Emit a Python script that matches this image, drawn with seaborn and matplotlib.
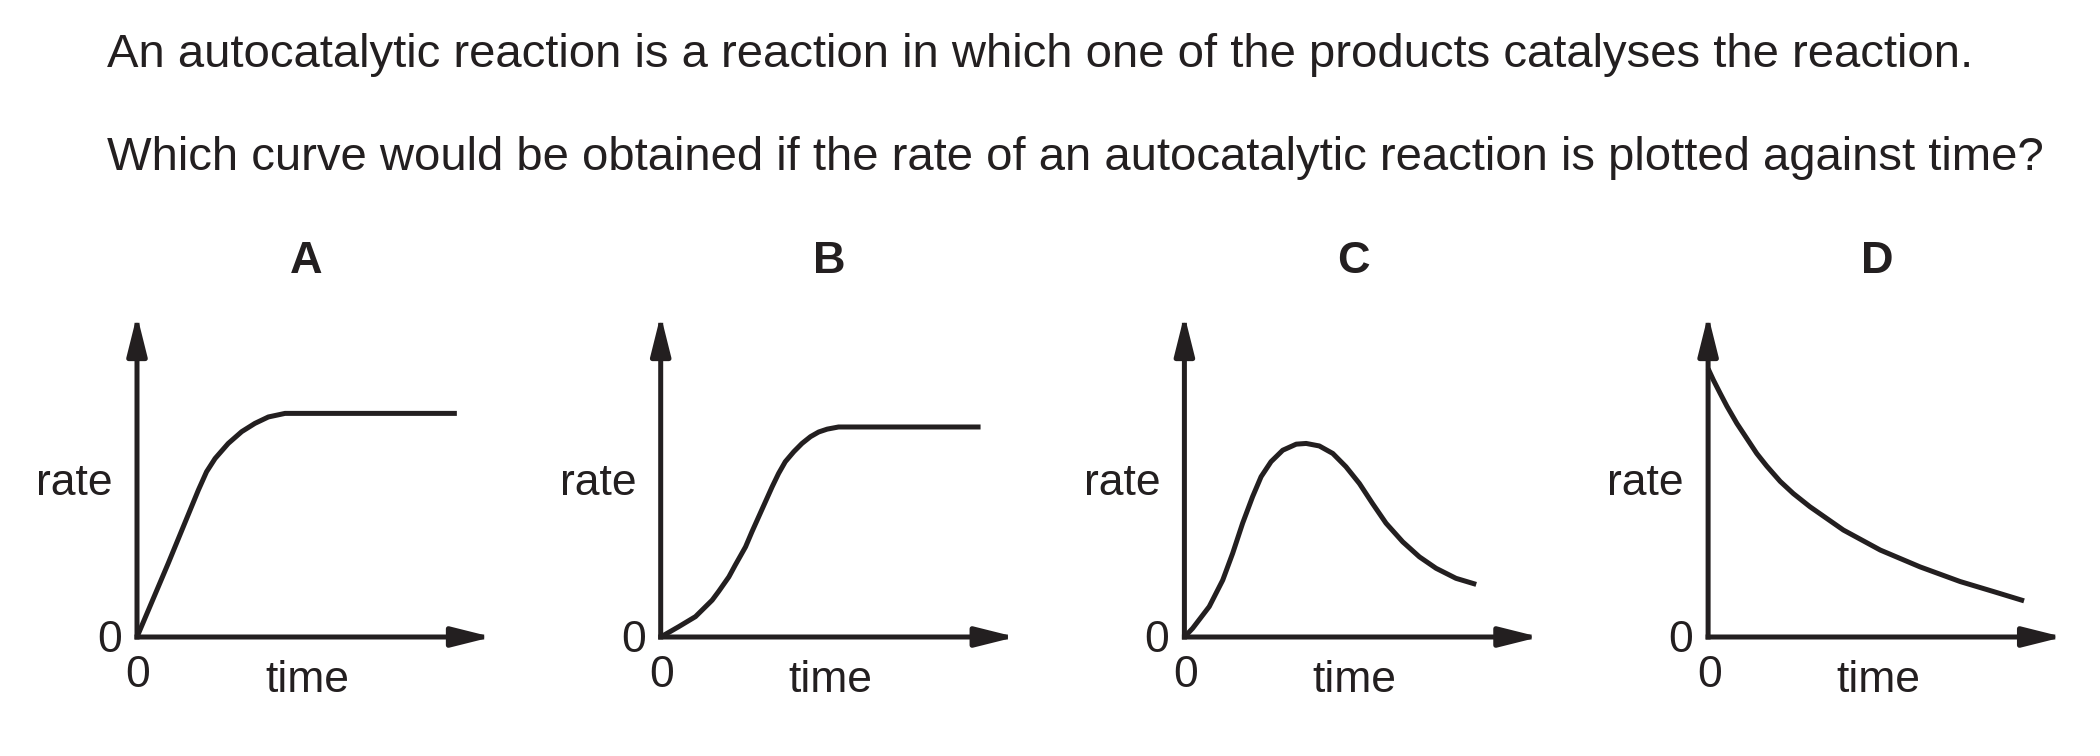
import seaborn as sns
import matplotlib.pyplot as plt

# question text
line1 = "An autocatalytic reaction is a reaction in which one of the products catalyses the reaction."
line2 = "Which curve would be obtained if the rate of an autocatalytic reaction is plotted against time?"

panels = ["A", "B", "C", "D"]

# curves (time, rate), axes run 0-10 and 0-9
a_time = [0, 0.88, 1.73, 1.96, 2.20, 2.57, 2.95, 3.32, 3.70, 4.17, 9.01]
a_rate = [0, 2.06, 4.11, 4.62, 4.99, 5.41, 5.74, 5.97, 6.15, 6.25, 6.25]

b_time = [0, 0.23, 0.51, 0.98, 1.45, 1.63, 1.92, 2.10, 2.39, 2.57, 2.76, 2.95,
          3.14, 3.32, 3.51, 3.75, 3.98, 4.22, 4.45, 4.69, 5.01, 9.01]
b_rate = [0, 0.13, 0.29, 0.57, 1.03, 1.27, 1.68, 2.01, 2.52, 2.94, 3.36, 3.78,
          4.20, 4.57, 4.90, 5.18, 5.41, 5.60, 5.73, 5.81, 5.87, 5.87]

c_time = [0, 0.23, 0.70, 1.08, 1.36, 1.64, 1.92, 2.16, 2.44, 2.77, 3.15, 3.43,
          3.80, 4.18, 4.55, 4.93, 5.30, 5.68, 6.15, 6.62, 7.09, 7.65, 8.22]
c_rate = [0, 0.24, 0.85, 1.59, 2.34, 3.18, 3.92, 4.48, 4.90, 5.22, 5.39, 5.41,
          5.34, 5.13, 4.76, 4.29, 3.73, 3.18, 2.66, 2.24, 1.92, 1.64, 1.47]

d_time = [0, 0.15, 0.34, 0.53, 0.81, 1.09, 1.37, 1.65, 2.03, 2.40, 2.87, 3.81,
          4.85, 5.97, 7.10, 8.04, 8.90]
d_rate = [7.50, 7.18, 6.81, 6.45, 5.97, 5.55, 5.13, 4.78, 4.35, 4.01, 3.64, 2.99,
          2.43, 1.96, 1.55, 1.27, 1.01]

curves = [(a_time, a_rate), (b_time, b_rate), (c_time, c_rate), (d_time, d_rate)]

ink = "#231f20"

sns.set_theme(style="white")
plt.rcParams["font.family"] = ["Liberation Sans", "DejaVu Sans"]

W, H = 2100, 756
fig = plt.figure(figsize=(W / 100, H / 100), dpi=100)

fig.text(107 / W, 1 - 67 / H, line1, fontsize=34, color=ink, va="baseline")
fig.text(107 / W, 1 - 170 / H, line2, fontsize=34, color=ink, va="baseline")

arrow = dict(arrowstyle="-|>,head_length=1.2,head_width=0.3", mutation_scale=20,
             lw=3.6, color=ink, shrinkA=0, shrinkB=0, capstyle="projecting")

for i, (name, (t, r)) in enumerate(zip(panels, curves)):
    x0 = 137 + 523.7 * i
    ax = fig.add_axes([x0 / W, (H - 637) / H, 355 / W, 322 / H])
    ax.set_xlim(0, 10)
    ax.set_ylim(0, 9)
    ax.axis("off")

    sns.lineplot(x=t, y=r, ax=ax, color=ink, linewidth=3.6, estimator=None,
                 sort=False)
    for ln in ax.lines:
        ln.set_clip_on(False)
        ln.set_solid_capstyle("butt")
        ln.set_solid_joinstyle("round")

    # axes with arrow heads
    ax.annotate("", xy=(10, 0), xytext=(0, 0), arrowprops=arrow,
                annotation_clip=False)
    ax.annotate("", xy=(0, 9), xytext=(0, 0), arrowprops=arrow,
                annotation_clip=False)

    ax.text(4.76, 10.17, name, fontsize=32.5, fontweight="bold", color=ink,
            ha="center", va="baseline")
    ax.text(-0.68, 3.97, "rate", fontsize=32, color=ink, ha="right", va="baseline")
    ax.text(-0.42, -0.42, "0", fontsize=32, color=ink, ha="right", va="baseline")
    ax.text(0.03, -1.40, "0", fontsize=32, color=ink, ha="center", va="baseline")
    ax.text(4.79, -1.54, "time", fontsize=32, color=ink, ha="center", va="baseline")

fig.savefig("out.png", dpi=100, facecolor="white")
